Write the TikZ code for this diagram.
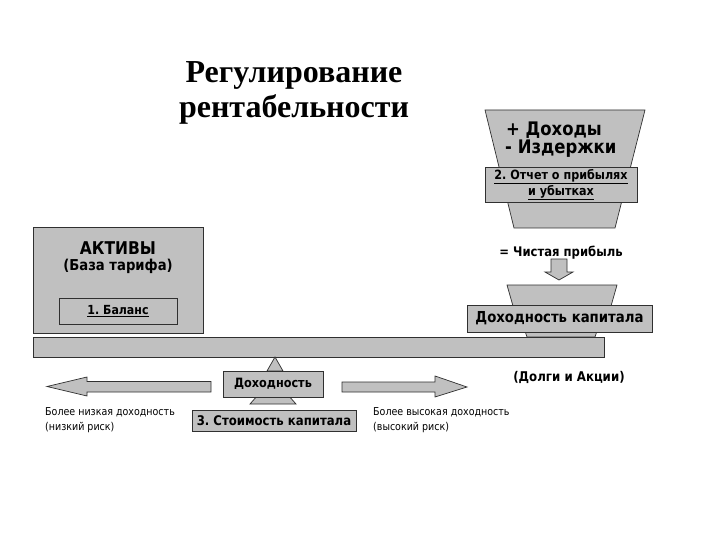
\documentclass[tikz,border=0pt]{standalone}
\usepackage{fontspec}
\setmainfont{DejaVu Sans}[FakeStretch=0.88]
\newfontfamily\titlefont{Liberation Serif}
\definecolor{boxgray}{HTML}{C0C0C0}
\definecolor{edge}{HTML}{303030}
\frenchspacing
\begin{document}
\begin{tikzpicture}[x=1pt,y=-1pt,
  shapefill/.style={draw=edge, fill=boxgray, line width=0.7pt, line join=miter},
  gbox/.style={shapefill, rectangle, inner sep=0pt, align=center},
  btxt/.style={inner sep=0pt, font=\bfseries\fontsize{#1}{#1}\selectfont},
  rtxt/.style={inner sep=0pt, anchor=west, font=\fontsize{10.8}{10.8}\selectfont},
  ttl/.style={inner sep=0pt, anchor=base, font=\titlefont\bfseries\fontsize{32}{32}\selectfont}]
\useasboundingbox (0,0) rectangle (720,540);
\fill[white] (0,0) rectangle (720,540);

% title
\node[ttl] (t1) at (294,83) {Регулирование};
\node[ttl] (t2) at (294,118) {рентабельности};

% income statement funnel
\filldraw[shapefill] (485,110) -- (645,110) -- (615,228) -- (514,228) -- cycle;
\node[btxt=18.7, anchor=west] (inc) at (506,130) {+ Доходы};
\node[btxt=18.7, anchor=west] (exp) at (505,149) {- Издержки};
\node[gbox, minimum width=152pt, minimum height=35pt, font=\bfseries\fontsize{12.7}{16}\selectfont] (pl) at (561,184.5) {\underline{2. Отчет о прибылях}\\\underline{и убытках}};

% assets
\node[gbox, minimum width=170pt, minimum height=106pt] (assets) at (118,280) {};
\node[btxt=17.6] (akt) at (118,248) {АКТИВЫ};
\node[btxt=15] (baza) at (118,266) {(База тарифа)};
\node[gbox, minimum width=118pt, minimum height=26pt, btxt=12.5] (bal) at (118,311) {\underline{1. Баланс}};

% net profit
\node[btxt=13.2] (np) at (561,253) {= Чистая прибыль};
\filldraw[shapefill] (551,259) -- (567,259) -- (567,272) -- (573,272) -- (559,280) -- (545,272) -- (551,272) -- cycle;

% return on capital
\filldraw[shapefill] (507,285) -- (617,285) -- (611,306) -- (513,306) -- cycle;
\filldraw[shapefill] (525,331) -- (597,331) -- (595,337) -- (527,337) -- cycle;
\node[gbox, minimum width=185pt, minimum height=27pt, btxt=15.1] (roc) at (559.5,318.5) {Доходность капитала};

% beam
\node[gbox, minimum width=571pt, minimum height=20pt] (beam) at (318.5,347) {};

% fulcrum
\filldraw[shapefill] (275,357) -- (283,371) -- (267,371) -- cycle;
\filldraw[shapefill] (273,378) -- (296,404) -- (250,404) -- cycle;
\node[gbox, minimum width=100pt, minimum height=26pt, btxt=12.8] (ret) at (273,384) {Доходность};
\node[gbox, minimum width=164pt, minimum height=21pt, btxt=13.3] (coc) at (274,420.5) {3. Стоимость капитала};

% arrows
\filldraw[shapefill] (211,381.5) -- (87,381.5) -- (87,377) -- (47,386.5) -- (87,396) -- (87,392) -- (211,392) -- cycle;
\filldraw[shapefill] (342,382) -- (435,382) -- (435,376) -- (467,387) -- (435,397) -- (435,392) -- (342,392) -- cycle;

\node[btxt=13.4] (debt) at (569,377) {(Долги и Акции)};
\node[rtxt] (lo1) at (45,412) {Более низкая доходность};
\node[rtxt] (lo2) at (45,428) {(низкий риск)};
\node[rtxt] (hi1) at (373,412) {Более высокая доходность};
\node[rtxt] (hi2) at (373,428) {(высокий риск)};
\end{tikzpicture}
\end{document}
